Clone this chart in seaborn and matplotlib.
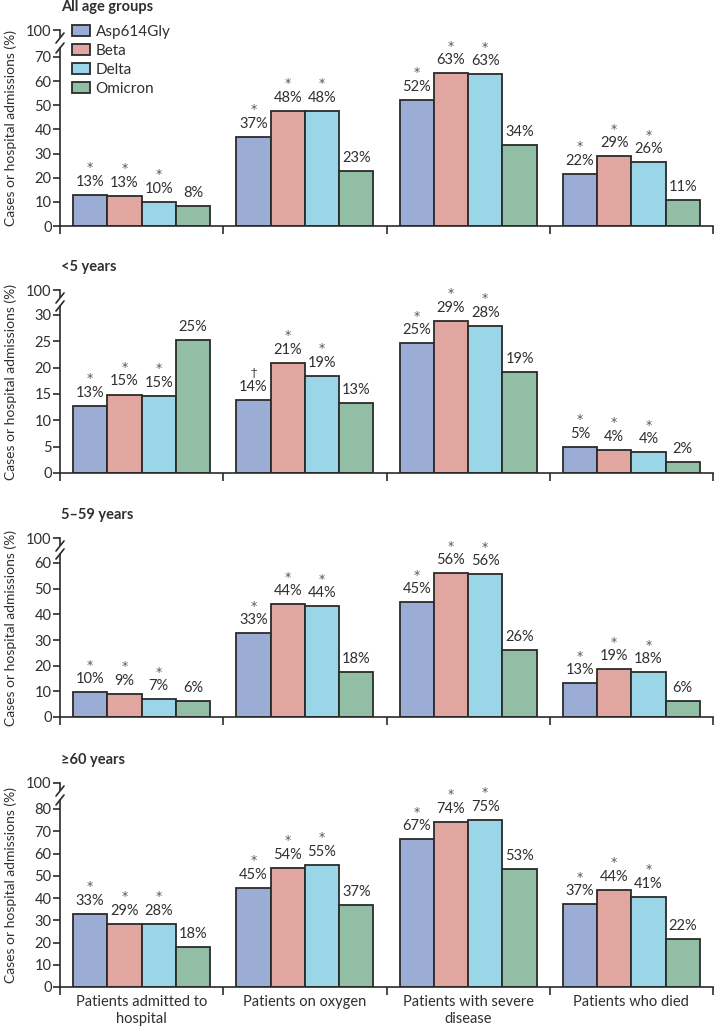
import matplotlib
matplotlib.use("Agg")
import matplotlib.pyplot as plt
import seaborn as sns
import pandas as pd
from matplotlib.lines import Line2D

sns.set_style("white")
plt.rcParams['font.family'] = ['Lato', 'DejaVu Sans']

# ---------------- data ----------------
OUTCOMES = ["Patients admitted to\nhospital", "Patients on oxygen",
            "Patients with severe\ndisease", "Patients who died"]
VARIANTS = ["Asp614Gly", "Beta", "Delta", "Omicron"]
COLORS = ["#9BACD5", "#E2A6A0", "#9BD6E8", "#91BEA5"]

# bar heights (rows = outcome, cols = variant)
ALL_AGES = [[12.9, 12.6, 10.1, 8.3], [36.9, 47.8, 47.6, 22.9],
            [52.2, 63.2, 62.8, 33.5], [21.5, 28.9, 26.4, 10.6]]
UNDER5 = [[12.8, 14.9, 14.6, 25.3], [13.9, 20.9, 18.5, 13.2],
          [24.6, 28.9, 27.9, 19.2], [5.0, 4.4, 3.9, 2.0]]
AGE5_59 = [[9.6, 9.1, 6.9, 6.2], [32.6, 43.9, 43.2, 17.5],
           [44.7, 56.0, 55.6, 26.1], [13.2, 18.6, 17.4, 6.2]]
AGE60 = [[32.9, 28.3, 28.3, 17.8], [44.5, 53.6, 55.0, 36.9],
         [66.4, 74.2, 75.2, 53.0], [37.2, 43.6, 40.6, 21.7]]

# printed percentages
ALL_AGES_PCT = [[13, 13, 10, 8], [37, 48, 48, 23], [52, 63, 63, 34], [22, 29, 26, 11]]
UNDER5_PCT = [[13, 15, 15, 25], [14, 21, 19, 13], [25, 29, 28, 19], [5, 4, 4, 2]]
AGE5_59_PCT = [[10, 9, 7, 6], [33, 44, 44, 18], [45, 56, 56, 26], [13, 19, 18, 6]]
AGE60_PCT = [[33, 29, 28, 18], [45, 54, 55, 37], [67, 74, 75, 53], [37, 44, 41, 22]]

# significance marks
STD_SIG = [["*", "*", "*", ""]] * 4
UNDER5_SIG = [["*", "*", "*", ""], ["\u2020", "*", "*", ""], ["*", "*", "*", ""], ["*", "*", "*", ""]]

TITLES = ["All age groups", "<5 years", "5\u201359 years", "\u226560 years"]
Y_MAX = [70, 30, 60, 80]
Y_STEP = [10, 5, 10, 10]

# ---------------- layout (pixels) ----------------
W, H = 714, 1033
X_LEFT, X_RIGHT = 60, 713
LAYOUT = [  # (y of zero, y of top tick, y of 100, title y)
    (226, 57, 30, 7),
    (473, 315, 290, 267),
    (717, 563, 538, 515),
    (987, 809, 783, 760),
]

TXT = "#2f2f2f"
EDGE = "#2b2b2b"

fig = plt.figure(figsize=(W / 100, H / 100), dpi=100)


def fx(px):
    return px / W


def fy(py):
    return 1 - py / H


panels = [
    (ALL_AGES, ALL_AGES_PCT, STD_SIG),
    (UNDER5, UNDER5_PCT, UNDER5_SIG),
    (AGE5_59, AGE5_59_PCT, STD_SIG),
    (AGE60, AGE60_PCT, STD_SIG),
]

for p, (vals, pcts, sigs) in enumerate(panels):
    y0, ytick, y100, ty = LAYOUT[p]
    ymax = Y_MAX[p]
    ppu = (y0 - ytick) / ymax
    main_top = ytick - 9
    ax = fig.add_axes([fx(X_LEFT), fy(y0), fx(X_RIGHT) - fx(X_LEFT), (y0 - main_top) / H])
    rows = []
    for i, oc in enumerate(OUTCOMES):
        for j, vr in enumerate(VARIANTS):
            rows.append({"outcome": oc, "variant": vr, "value": vals[i][j]})
    df = pd.DataFrame(rows)
    sns.barplot(data=df, x="outcome", y="value", hue="variant", order=OUTCOMES,
                hue_order=VARIANTS, palette=COLORS, width=0.84, edgecolor=EDGE,
                linewidth=1.3, saturation=1, legend=(p == 0), ax=ax, errorbar=None)
    ax.set_xlim(-0.5, 3.5)
    ax.set_ylim(0, (y0 - main_top) / ppu)
    ax.set_yticks(range(0, ymax + 1, Y_STEP[p]))
    ax.set_xticks([-0.5, 0.5, 1.5, 2.5, 3.5])
    ax.set_xlabel("")
    ax.set_ylabel("")
    for s in ["top", "right"]:
        ax.spines[s].set_visible(False)
    for s in ["left", "bottom"]:
        ax.spines[s].set_color(EDGE)
        ax.spines[s].set_linewidth(1.2)
    ax.tick_params(axis="y", direction="out", length=5, width=1.2, color=EDGE,
                   labelsize=10.5, labelcolor=TXT, pad=1, left=True)
    ax.tick_params(axis="x", direction="out", length=6, width=1.2, color=EDGE,
                   labelsize=10.5, labelcolor=TXT, pad=4, bottom=True)
    ax.set_xticklabels([""] * 5)
    if p == 3:
        ax.set_xticks([0, 1, 2, 3], minor=True)
        ax.set_xticklabels(OUTCOMES, minor=True)
        ax.tick_params(axis="x", which="minor", length=0, pad=6, labelsize=10.5, labelcolor=TXT)

    # value labels
    for j, cont in enumerate(ax.containers):
        for i, bar in enumerate(cont):
            xc = bar.get_x() + bar.get_width() / 2
            h = bar.get_height()
            ax.annotate(f"{pcts[i][j]}%", (xc, h), xytext=(0, 6.5), textcoords="offset points",
                        ha="center", va="baseline", fontsize=10.5, color=TXT)
            if sigs[i][j]:
                ax.annotate(sigs[i][j], (xc, h), xytext=(0, 17), textcoords="offset points",
                            ha="center", va="baseline", fontsize=9, color="#555555",
                            family="DejaVu Sans")

    # top stub axis with 100
    axt = fig.add_axes([fx(X_LEFT), fy(y100 + 7), fx(X_RIGHT) - fx(X_LEFT), 7 / H])
    axt.set_xlim(-0.5, 3.5)
    axt.set_ylim(97, 100)
    axt.set_yticks([100])
    axt.set_xticks([])
    axt.patch.set_visible(False)
    for s in ["top", "right", "bottom"]:
        axt.spines[s].set_visible(False)
    axt.spines["left"].set_color(EDGE)
    axt.spines["left"].set_linewidth(1.2)
    axt.tick_params(axis="y", direction="out", length=5, width=1.2, color=EDGE,
                    labelsize=10.5, labelcolor=TXT, pad=1, left=True)

    # break marks
    for cy in (y100 + 8, main_top):
        fig.add_artist(Line2D([fx(X_LEFT - 4), fx(X_LEFT + 4)], [fy(cy + 5), fy(cy - 5)],
                              transform=fig.transFigure, color=EDGE, lw=1.2))

    # title & ylabel
    fig.text(fx(61), fy(ty), TITLES[p], ha="left", va="center", fontsize=10.5,
             fontweight="bold", color=TXT)
    fig.text(fx(11), fy((y100 + y0) / 2), "Cases or hospital admissions (%)", rotation=90,
             ha="center", va="center", fontsize=10, color=TXT)

    if p == 0:
        sns.move_legend(ax, loc="upper left", bbox_to_anchor=(fx(72), fy(25)),
                        bbox_transform=fig.transFigure, frameon=False, title=None,
                        fontsize=11, handlelength=1.2, handleheight=0.75,
                        labelspacing=0.33, handletextpad=0.35, borderpad=0, borderaxespad=0)
        for t in ax.get_legend().get_texts():
            t.set_color(TXT)

fig.savefig("out.png", dpi=100)
